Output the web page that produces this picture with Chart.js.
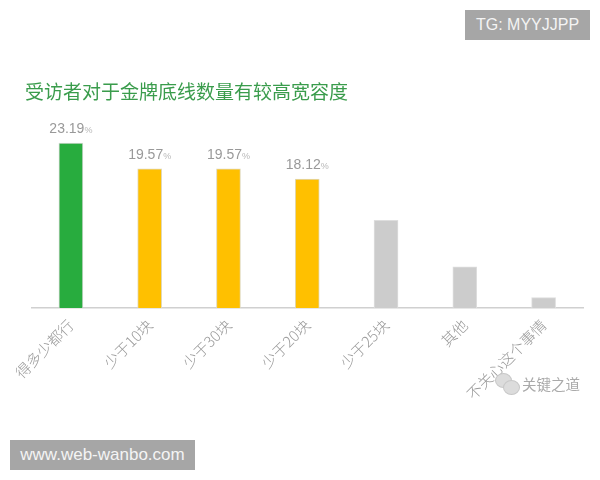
<!DOCTYPE html>
<html>
<head>
<meta charset="utf-8">
<script src="https://cdn.jsdelivr.net/npm/chart.js@4"></script>
<style>
  html, body { margin: 0; padding: 0; background: #fff; }
  #wrap { position: relative; width: 600px; height: 480px; overflow: hidden; font-family: "Noto Sans CJK SC", sans-serif; }
  #chart { position: absolute; left: 0; top: 0; }
  .tag { position: absolute; background: #a6a6a6; color: #fff; font-family: "Liberation Sans", sans-serif; height: 30px; line-height: 30px; text-align: center; }
  #tg { left: 465px; top: 10px; width: 125px; font-size: 16px; color: #f4f4f4; }
  #site { left: 10px; top: 440px; width: 185px; font-size: 17px; color: #f4f4f4; }
  #title { position: absolute; left: 25px; top: 78px; font-size: 19px; line-height: 26px; color: #3a9c4c; white-space: nowrap; }
  #mark { position: absolute; left: 522px; top: 374px; font-size: 14.5px; line-height: 20px; color: #aaa; white-space: nowrap; }
  .dot { position: absolute; border-radius: 50%; background: #dcdcdc; border: 1px solid #c8c8c8; }
</style>
</head>
<body>
<div id="wrap">
  <canvas id="chart" width="600" height="480"></canvas>
  <div class="tag" id="tg">TG: MYYJJPP</div>
  <div id="title">受访者对于金牌底线数量有较高宽容度</div>
  <div class="dot" style="left:495px;top:373px;width:15px;height:13px"></div>
  <div class="dot" style="left:503px;top:380px;width:15px;height:13px"></div>
  <div id="mark">关键之道</div>
  <div class="tag" id="site">www.web-wanbo.com</div>
</div>
<script>
const categories = ['得多少都行', '少于10块', '少于30块', '少于20块', '少于25块', '其他', '不关心这个事情'];
const values = [23.19, 19.57, 19.57, 18.12, 12.32, 5.80, 1.45];
const barColors = ['#28ac3e', '#ffc000', '#ffc000', '#ffc000', '#cccccc', '#cccccc', '#cccccc'];
const edgeColors = ['#cfd8cf', '#e0d8b8', '#e0d8b8', '#e0d8b8', '#dedede', '#dedede', '#dedede'];
const labelled = 4; // only the first four bars carry a value

const valueLabels = {
    id: 'valueLabels',
    afterDatasetsDraw(chart) {
        const ctx = chart.ctx;
        const bars = chart.getDatasetMeta(0).data;
        ctx.save();
        ctx.textBaseline = 'alphabetic';
        ctx.textAlign = 'left';
        for (let i = 0; i < labelled; i++) {
            const num = values[i].toFixed(2);
            ctx.font = '14px "Liberation Sans", sans-serif';
            const numW = ctx.measureText(num).width;
            ctx.font = '9px "Liberation Sans", sans-serif';
            const pctW = ctx.measureText('%').width;
            const left = bars[i].x - (numW + pctW) / 2;
            const base = bars[i].y - 10;
            ctx.font = '14px "Liberation Sans", sans-serif';
            ctx.fillStyle = '#999999';
            ctx.fillText(num, left, base);
            ctx.font = '9px "Liberation Sans", sans-serif';
            ctx.fillStyle = '#b8b8b8';
            ctx.fillText('%', left + numW, base);
        }
        ctx.restore();
    }
};

new Chart(document.getElementById('chart').getContext('2d'), {
    type: 'bar',
    data: {
        labels: categories,
        datasets: [{
            data: values,
            backgroundColor: barColors,
            borderColor: edgeColors,
            borderWidth: 1,
            barThickness: 24
        }]
    },
    options: {
        responsive: false,
        animation: false,
        layout: { padding: { left: 31.5, right: 17, top: 120, bottom: 0 } },
        plugins: { legend: { display: false }, tooltip: { enabled: false } },
        scales: {
            x: {
                grid: { display: false, drawTicks: false },
                border: { color: '#d0d0d0', width: 1.5 },
                afterFit(scale) { scale.height = 172; },
                ticks: {
                    color: '#999999',
                    font: { size: 15, family: '"Noto Sans CJK SC", sans-serif', weight: '300' },
                    minRotation: 45,
                    maxRotation: 45,
                    autoSkip: false,
                    padding: 8
                }
            },
            y: { display: false, min: 0, max: 26.42 }
        }
    },
    plugins: [valueLabels]
});
</script>
</body>
</html>
